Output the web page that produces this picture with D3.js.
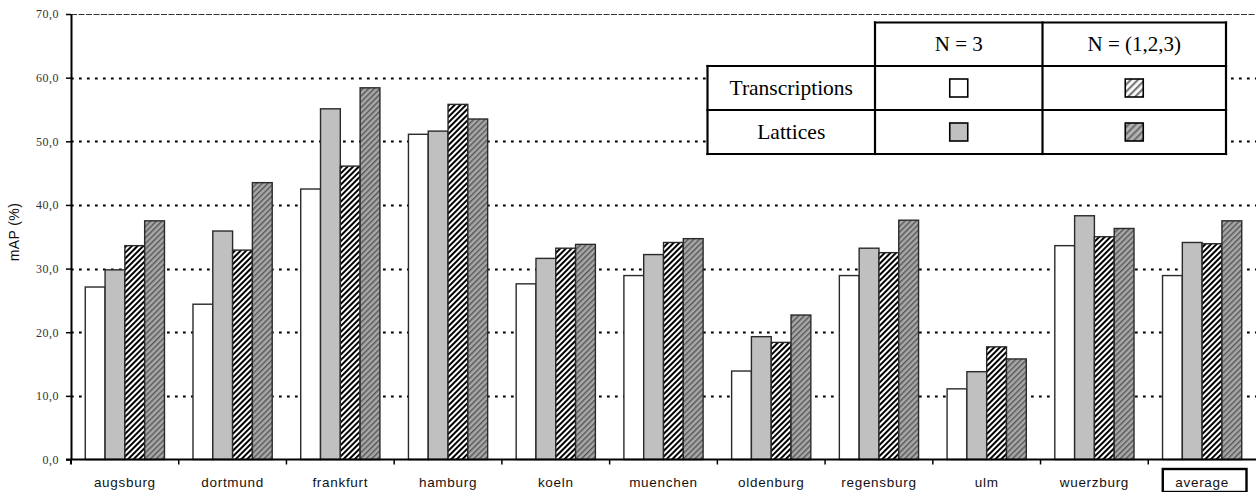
<!DOCTYPE html>
<html>
<head>
<meta charset="utf-8">
<script src="https://cdn.jsdelivr.net/npm/d3@7"></script>
<style>
  html, body { margin: 0; padding: 0; background: #fff; }
  svg { display: block; }
</style>
</head>
<body>
<svg id="chart" width="1256" height="492"></svg>
<script>
// ---- data ----
const categories = ["augsburg","dortmund","frankfurt","hamburg","koeln","muenchen","oldenburg","regensburg","ulm","wuerzburg","average"];
const seriesNames = ["Transcriptions N=3","Lattices N=3","Transcriptions N=(1,2,3)","Lattices N=(1,2,3)"];
const transN3   = [27.1, 24.4, 42.5, 51.1, 27.6, 28.9, 13.9, 28.9, 11.1, 33.6, 28.9];
const latN3     = [29.8, 35.9, 55.1, 51.6, 31.6, 32.2, 19.3, 33.2, 13.8, 38.3, 34.1];
const transN123 = [33.6, 32.9, 46.1, 55.8, 33.2, 34.1, 18.4, 32.5, 17.7, 35.0, 33.9];
const latN123   = [37.5, 43.5, 58.4, 53.5, 33.8, 34.7, 22.7, 37.6, 15.8, 36.3, 37.5];
const yTicks = [0, 10, 20, 30, 40, 50, 60, 70];
const yTickLabels = ["0,0","10,0","20,0","30,0","40,0","50,0","60,0","70,0"];
const legendCols = ["N = 3", "N = (1,2,3)"];
const legendRows = ["Transcriptions", "Lattices"];
const yTitle = "mAP (%)";

const seriesValues = [transN3, latN3, transN123, latN123];

(function () {
const svg = d3.select("#chart");
const pLeft = 71, pRight = 1256, pTop = 14, pBottom = 459.5;

const x = d3.scaleBand().domain(categories).range([pLeft, pRight]).paddingInner(0).paddingOuter(0);
const xs = d3.scaleBand().domain(d3.range(4)).range([0, x.bandwidth()]).paddingInner(0).paddingOuter(0.72);
const y = d3.scaleLinear().domain([0, 70]).range([pBottom, pTop]);

// ---- patterns ----
const defs = svg.append("defs");
function hatch(id, bg, fg, size, w) {
  const p = defs.append("pattern").attr("id", id)
    .attr("patternUnits", "userSpaceOnUse")
    .attr("width", size).attr("height", size)
    .attr("patternTransform", "rotate(45)");
  p.append("rect").attr("width", size).attr("height", size).attr("fill", bg);
  p.append("rect").attr("x", 0).attr("y", 0).attr("width", w).attr("height", size).attr("fill", fg);
}
hatch("hatchW", "#ffffff", "#000000", 4, 2.0);
hatch("hatchD", "#a8a8a8", "#555555", 4, 1.4);
hatch("legW", "#ffffff", "#7a7a7a", 5, 2.2);
hatch("legD", "#b4b4b4", "#707070", 5, 2.2);

const fills = ["#ffffff", "#c0c0c0", "url(#hatchW)", "url(#hatchD)"];
const legFills = ["#ffffff", "url(#legW)", "#c0c0c0", "url(#legD)"];

// ---- gridlines ----
svg.append("g").selectAll("line").data(yTicks.filter(t => t > 0 && t < 70)).join("line")
  .attr("x1", pLeft).attr("x2", pRight)
  .attr("y1", d => Math.round(y(d)) + 0.5).attr("y2", d => Math.round(y(d)) + 0.5)
  .attr("stroke", "#000").attr("stroke-width", 2)
  .attr("stroke-dasharray", "2.7,5.3");
svg.append("line")
  .attr("x1", pLeft).attr("x2", pRight)
  .attr("y1", Math.round(y(70)) + 0.5).attr("y2", Math.round(y(70)) + 0.5)
  .attr("stroke", "#333").attr("stroke-width", 1.2)
  .attr("stroke-dasharray", "6,1.5");

// ---- bars ----
const groups = svg.append("g").selectAll("g").data(categories).join("g")
  .attr("transform", d => `translate(${x(d)},0)`);
groups.selectAll("rect").data((d, i) => seriesValues.map((s, k) => ({k, v: s[i]}))).join("rect")
  .attr("x", d => xs(d.k))
  .attr("width", xs.bandwidth())
  .attr("y", d => y(d.v))
  .attr("height", d => pBottom - y(d.v))
  .attr("fill", d => fills[d.k])
  .attr("stroke", "#2a2a2a")
  .attr("stroke-width", 1.4);

// ---- y axis ----
const yAxis = d3.axisLeft(y).tickValues(yTicks).tickSize(5).tickSizeOuter(0)
  .tickFormat((d, i) => yTickLabels[i]);
const gy = svg.append("g").attr("transform", `translate(${pLeft},0)`).call(yAxis);
gy.select(".domain").attr("stroke", "#000").attr("stroke-width", 2);
gy.selectAll(".tick line").attr("stroke", "#000").attr("stroke-width", 1.5);
gy.selectAll(".tick text")
  .attr("font-family", "'Liberation Serif', 'Times New Roman', serif")
  .attr("font-size", 12).attr("fill", "#333").attr("x", -12)
  .attr("letter-spacing", 0.5);

// ---- x axis ----
const gx = svg.append("g").attr("transform", `translate(0,${pBottom})`);
gx.append("line").attr("x1", pLeft - 5).attr("x2", pRight).attr("y1", 0).attr("y2", 0)
  .attr("stroke", "#000").attr("stroke-width", 2);
gx.selectAll("line.tk").data(categories.slice(1)).join("line").attr("class", "tk")
  .attr("x1", d => x(d)).attr("x2", d => x(d)).attr("y1", 0).attr("y2", 5)
  .attr("stroke", "#000").attr("stroke-width", 1.5);
gx.append("line").attr("x1", pLeft).attr("x2", pLeft).attr("y1", 0).attr("y2", 5)
  .attr("stroke", "#000").attr("stroke-width", 2);

gx.selectAll("text").data(categories).join("text")
  .attr("x", d => x(d) + x.bandwidth() / 2)
  .attr("y", 27)
  .attr("text-anchor", "middle")
  .attr("font-family", "'Liberation Sans', Arial, sans-serif")
  .attr("font-size", 13.5).attr("fill", "#111")
  .attr("letter-spacing", 0.7)
  .text(d => d);

const avg = categories[categories.length - 1];
svg.append("rect")
  .attr("x", x(avg) + 14.5).attr("y", 469)
  .attr("width", x.bandwidth() - 24).attr("height", 23)
  .attr("fill", "none").attr("stroke", "#000").attr("stroke-width", 2.4);

svg.append("text")
  .attr("transform", `translate(19,232) rotate(-90)`)
  .attr("text-anchor", "middle")
  .attr("font-family", "'Liberation Sans', Arial, sans-serif")
  .attr("font-size", 14).attr("fill", "#111")
  .attr("letter-spacing", 0.4)
  .text(yTitle);

// ---- legend table ----
const L = {x0: 707.5, c1: 875, c2: 1042.5, x1: 1226, y0: 22.5, r1: 66, r2: 110, y1: 154};
const lg = svg.append("g");
lg.append("rect").attr("x", L.c1).attr("y", L.y0).attr("width", L.x1 - L.c1).attr("height", L.r1 - L.y0)
  .attr("fill", "#fff");
lg.append("rect").attr("x", L.x0).attr("y", L.r1).attr("width", L.x1 - L.x0).attr("height", L.y1 - L.r1)
  .attr("fill", "#fff");
const segs = [
  [L.c1, L.y0, L.x1, L.y0], [L.x0, L.r1, L.x1, L.r1], [L.x0, L.r2, L.x1, L.r2], [L.x0, L.y1, L.x1, L.y1],
  [L.x0, L.r1, L.x0, L.y1], [L.c1, L.y0, L.c1, L.y1], [L.c2, L.y0, L.c2, L.y1], [L.x1, L.y0, L.x1, L.y1]
];
lg.selectAll("line").data(segs).join("line")
  .attr("x1", d => d[0]).attr("y1", d => d[1]).attr("x2", d => d[2]).attr("y2", d => d[3])
  .attr("stroke", "#000").attr("stroke-width", 2.2).attr("stroke-linecap", "square");

const serif = "'Liberation Serif', 'Times New Roman', serif";
const colCenters = [(L.c1 + L.c2) / 2, (L.c2 + L.x1) / 2];
const rowCenters = [(L.r1 + L.r2) / 2, (L.r2 + L.y1) / 2];
lg.selectAll("text.col").data(legendCols).join("text").attr("class", "col")
  .attr("x", (d, i) => colCenters[i]).attr("y", (L.y0 + L.r1) / 2 + 7)
  .attr("text-anchor", "middle").attr("font-family", serif).attr("font-size", 21).attr("fill", "#000")
  .text(d => d);
lg.selectAll("text.row").data(legendRows).join("text").attr("class", "row")
  .attr("x", (L.x0 + L.c1) / 2).attr("y", (d, i) => rowCenters[i] + 7)
  .attr("text-anchor", "middle").attr("font-family", serif).attr("font-size", 21.5).attr("fill", "#000")
  .text(d => d);
const sw = 18;
const cells = [];
legendRows.forEach((r, ri) => legendCols.forEach((c, ci) => cells.push({ri, ci})));
lg.selectAll("rect.sw").data(cells).join("rect").attr("class", "sw")
  .attr("x", d => colCenters[d.ci] - sw / 2).attr("y", d => rowCenters[d.ri] - sw / 2)
  .attr("width", sw).attr("height", sw)
  .attr("fill", d => legFills[d.ri * 2 + d.ci])
  .attr("stroke", "#000").attr("stroke-width", 1.6);
})();
</script>
</body>
</html>
